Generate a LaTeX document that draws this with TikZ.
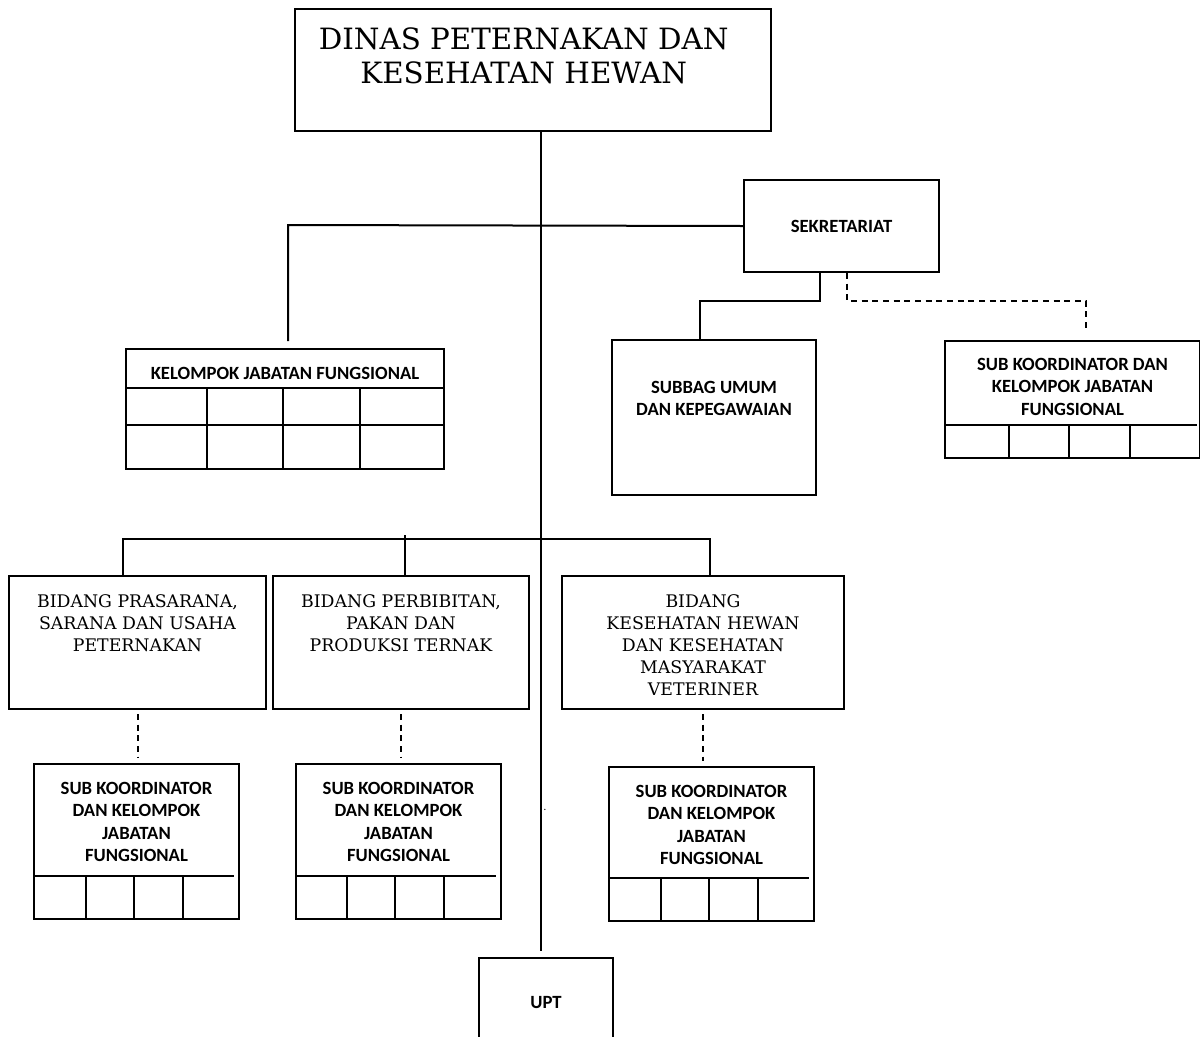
\documentclass[tikz,border=0pt]{standalone}
\usepackage{fontspec}
\usepackage{tikz}
\usetikzlibrary{positioning}
\newfontfamily\serifbidang{DejaVu Serif}
\newfontfamily\kalibri{Carlito}
\newlength{\scaledx}
\newlength{\scaledy}
\newcommand\SetScales{%
  \pgfextractx{\scaledx}{\pgfpointxy{1}{0}}%
  \pgfextracty{\scaledy}{\pgfpointxy{0}{-1}}%
}
\tikzset{
  kotak/.style={draw,rectangle,inner sep=0,anchor=north west},
  judul/.style={inner sep=0,align=center,font=\serifbidang\fontsize{13}{16.5}\selectfont},
  tebal/.style={inner sep=0,align=center,font=\kalibri\bfseries\fontsize{14}{16.8}\selectfont},
  putus/.style={dash pattern=on 4.5pt off 3.5pt},
}

\begin{document}
\begin{tikzpicture}[x=0.75pt,y=-0.75pt,line width=1.5pt]
\SetScales
\useasboundingbox (0,0) rectangle (1200,1036);
% kepala dinas
\node[kotak,minimum width=476\scaledx,minimum height=122\scaledy] (dinas) at (294,8) {};
\node[judul,font=\serifbidang\fontsize{22}{25.5}\selectfont,below=14pt of dinas.north,xshift=-7pt] (dinast) {DINAS PETERNAKAN DAN\\KESEHATAN HEWAN};
% sekretariat
\node[kotak,tebal,minimum width=195\scaledx,minimum height=92\scaledy] (sekr) at (743,179) {SEKRETARIAT};
\node[kotak,minimum width=318\scaledx,minimum height=120\scaledy] (kel) at (125,348) {};
\node[tebal,below=13.5pt of kel.north] (kelt) {KELOMPOK JABATAN FUNGSIONAL};
\foreach \y in {388,425} {
  \draw (125,\y) -- (443,\y);
}
\foreach \x in {207,283,360} {
  \draw (\x,388) -- (\x,468);
}
\node[kotak,minimum width=204\scaledx,minimum height=155\scaledy] (subbag) at (611,339) {};
\node[tebal,below=30.75pt of subbag.north] (subbagt) {SUBBAG UMUM\\DAN KEPEGAWAIAN};
\node[kotak,minimum width=255\scaledx,minimum height=117\scaledy] (subkr) at (944,340) {};
\node[tebal,below=12.75pt of subkr.north] (subkrt) {SUB KOORDINATOR DAN\\KELOMPOK JABATAN\\FUNGSIONAL};
\draw (944,425) -- (1197,425);
\foreach \x in {1009,1069,1130} {
  \draw (\x,425) -- (\x,457);
}
% bidang
\node[kotak,minimum width=257\scaledx,minimum height=133\scaledy] (bid1) at (8,575) {};
\node[judul,below=14pt of bid1.north] (bid1t) {BIDANG PRASARANA,\\SARANA DAN USAHA\\PETERNAKAN};
\node[kotak,minimum width=256\scaledx,minimum height=133\scaledy] (bid2) at (272,575) {};
\node[judul,below=14pt of bid2.north] (bid2t) {BIDANG PERBIBITAN,\\PAKAN DAN\\PRODUKSI TERNAK};
\node[kotak,minimum width=282\scaledx,minimum height=133\scaledy] (bid3) at (561,575) {};
\node[judul,below=14pt of bid3.north] (bid3t) {BIDANG\\KESEHATAN HEWAN\\DAN KESEHATAN\\MASYARAKAT\\VETERINER};
% sub koordinator
\node[kotak,minimum width=205\scaledx,minimum height=155\scaledy] (sub1) at (33,763) {};
\node[tebal,below=13.5pt of sub1.north] (sub1t) {SUB KOORDINATOR\\DAN KELOMPOK\\JABATAN\\FUNGSIONAL};
\draw (33,876) -- (234,876);
\foreach \x in {86,134,183} {
  \draw (\x,876) -- (\x,918);
}
\node[kotak,minimum width=205\scaledx,minimum height=155\scaledy] (sub2) at (295,763) {};
\node[tebal,below=13.5pt of sub2.north] (sub2t) {SUB KOORDINATOR\\DAN KELOMPOK\\JABATAN\\FUNGSIONAL};
\draw (295,876) -- (496,876);
\foreach \x in {347,395,444} {
  \draw (\x,876) -- (\x,918);
}
\node[kotak,minimum width=205\scaledx,minimum height=154\scaledy] (sub3) at (608,766) {};
\node[tebal,below=13.5pt of sub3.north] (sub3t) {SUB KOORDINATOR\\DAN KELOMPOK\\JABATAN\\FUNGSIONAL};
\draw (608,878) -- (809,878);
\foreach \x in {661,709,758} {
  \draw (\x,878) -- (\x,920);
}
\node[kotak,tebal,minimum width=134\scaledx,minimum height=90\scaledy] (upt) at (478,957) {UPT};
\node[inner sep=0,font=\kalibri\fontsize{8}{8}\selectfont] (titik) at (545,810) {.};
% garis
\coordinate (tulang) at (541,0);
\draw[shorten >=4.5pt] (tulang |- dinas.south) -- (tulang |- upt.north);
\coordinate (kj) at (288,225);
\draw[shorten >=5.25pt] (sekr.west) -- (kj) -- (kj |- kel.north);
\coordinate (sk1) at (820,301);
\coordinate (sk2) at (700,301);
\draw (sk1 |- sekr.south) -- (sk1) -- (sk2) -- (sk2 |- subbag.north);
\coordinate (sk3) at (847,301);
\coordinate (sk4) at (1086,301);
\draw[putus,shorten >=6pt] (sk3 |- sekr.south) -- (sk3) -- (sk4) -- (sk4 |- subkr.north);
\coordinate (b1) at (123,539);
\coordinate (b2) at (405,539);
\coordinate (b3) at (710,539);
\draw (b1 |- bid1.north) -- (b1) -- (b3) -- (b3 |- bid3.north);
\draw (b2 |- bid2.north) -- ([yshift=3pt]b2);
\draw[putus,shorten <=3pt,shorten >=3.5pt] (bid1.south) -- (bid1.south |- sub1.north);
\draw[putus,shorten <=3pt,shorten >=3.5pt] (bid2.south) -- (bid2.south |- sub2.north);
\draw[putus,shorten <=3pt,shorten >=3.5pt] (bid3.south) -- (bid3.south |- sub3.north);
\end{tikzpicture}
\end{document}
